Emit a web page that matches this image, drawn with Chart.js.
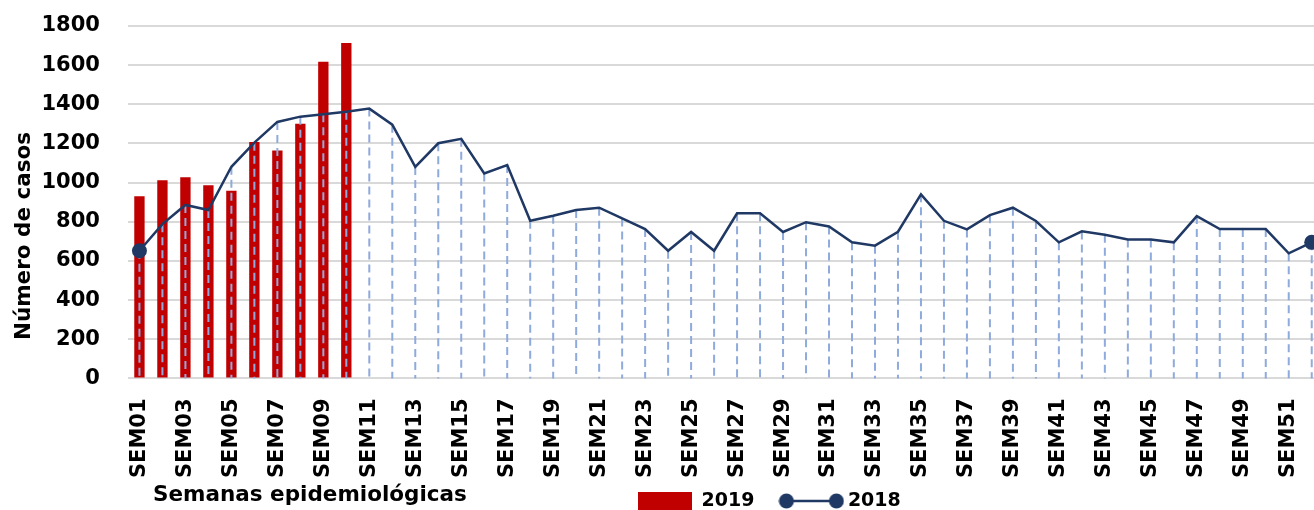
<!DOCTYPE html>
<html lang="es">
<head>
<meta charset="utf-8">
<title>Número de casos por semana epidemiológica</title>
<script src="https://cdn.jsdelivr.net/npm/chart.js@4.4.1/dist/chart.umd.min.js"></script>
<style>
  html, body { margin: 0; padding: 0; background: #ffffff; overflow: hidden; }
  .chart-wrap { width: 1337px; height: 510px; }
</style>
</head>
<body>
<div class="chart-wrap"><canvas id="casos-canvas" width="1337" height="510"></canvas></div>
<script>
// Data

var weeks = [
  "SEM01", "SEM02", "SEM03", "SEM04", "SEM05", "SEM06", "SEM07", "SEM08", "SEM09", "SEM10",
  "SEM11", "SEM12", "SEM13", "SEM14", "SEM15", "SEM16", "SEM17", "SEM18", "SEM19", "SEM20",
  "SEM21", "SEM22", "SEM23", "SEM24", "SEM25", "SEM26", "SEM27", "SEM28", "SEM29", "SEM30",
  "SEM31", "SEM32", "SEM33", "SEM34", "SEM35", "SEM36", "SEM37", "SEM38", "SEM39", "SEM40",
  "SEM41", "SEM42", "SEM43", "SEM44", "SEM45", "SEM46", "SEM47", "SEM48", "SEM49", "SEM50",
  "SEM51", "SEM52"
];

var cases2019 = [930, 1012, 1027, 986, 959, 1207, 1164, 1301, 1617, 1713];

var cases2018 = [
  652, 788, 886, 860, 1081, 1204, 1310, 1337, 1349, 1362,
  1378, 1296, 1080, 1201, 1224, 1047, 1090, 805, 831, 860,
  872, 817, 763, 652, 748, 652, 843, 843, 748, 798,
  776, 695, 678, 749, 940, 805, 761, 834, 872, 804,
  695, 751, 734, 710, 710, 695, 829, 763, 763, 763,
  639, 695
];

var seriesNames = ["2019", "2018"];
var yMin = 0, yMax = 1800, yStep = 200;
var xTitle = "Semanas epidemiológicas";
var yTitle = "Número de casos";

var RED = "#C00000";
var NAVY = "#1F3864";
var DROP = "#8FAADC";
var FONT = "'DejaVu Sans', sans-serif";

// legend icon for the 2018 series: line with a dot at each end
function lineMarkerIcon() {
  var c = document.createElement("canvas");
  c.width = 66;
  c.height = 18;
  var g = c.getContext("2d");
  g.strokeStyle = NAVY;
  g.lineWidth = 2.5;
  g.beginPath();
  g.moveTo(8, 9);
  g.lineTo(58, 9);
  g.stroke();
  g.fillStyle = NAVY;
  [8, 58].forEach(function (x) {
    g.beginPath();
    g.arc(x, 9, 7.5, 0, Math.PI * 2);
    g.fill();
  });
  return c;
}
var icon2018 = lineMarkerIcon();

// dashed drop lines from every 2018 point down to the axis
var dropLines = {
  id: "dropLines",
  beforeDatasetDraw: function (chart, args) {
    if (chart.data.datasets[args.index].type !== "line") return;
    var ctx = chart.ctx;
    var bottom = chart.chartArea.bottom;
    ctx.save();
    ctx.strokeStyle = DROP;
    ctx.lineWidth = 2;
    ctx.setLineDash([8, 5]);
    args.meta.data.forEach(function (pt) {
      ctx.beginPath();
      ctx.moveTo(pt.x, pt.y);
      ctx.lineTo(pt.x, bottom);
      ctx.stroke();
    });
    ctx.restore();
  }
};

// legend goes on the bottom row, right of the x axis title
var legendPlace = {
  id: "legendPlace",
  afterLayout: function (chart) {
    var lg = chart.legend;
    lg.left = 608;
    lg.right = chart.width;
    lg.top = 461.5;
    lg.bottom = chart.height;
    lg.width = lg.right - lg.left;
    lg.height = lg.bottom - lg.top;
  }
};

var axisCaptions = {
  id: "axisCaptions",
  afterDraw: function (chart) {
    var ctx = chart.ctx;
    ctx.save();
    ctx.fillStyle = "#000000";
    ctx.font = "bold 21.5px " + FONT;
    ctx.textBaseline = "middle";
    ctx.textAlign = "left";
    ctx.fillText(xTitle, 153, 495);
    ctx.translate(24, 236);
    ctx.rotate(-Math.PI / 2);
    ctx.textAlign = "center";
    ctx.fillText(yTitle, 0, 0);
    ctx.restore();
  }
};

var lastIdx = cases2018.length - 1;

new Chart(document.getElementById("casos-canvas").getContext("2d"), {
  data: {
    labels: weeks,
    datasets: [
      {
        type: "bar",
        label: seriesNames[0],
        data: cases2019,
        backgroundColor: RED,
        borderWidth: 0,
        barPercentage: 0.45,
        categoryPercentage: 1,
        order: 1
      },
      {
        type: "line",
        label: seriesNames[1],
        data: cases2018,
        borderColor: NAVY,
        backgroundColor: NAVY,
        borderWidth: 2.5,
        tension: 0,
        fill: false,
        pointBackgroundColor: NAVY,
        pointBorderWidth: 0,
        pointRadius: function (ctx) {
          return (ctx.dataIndex === 0 || ctx.dataIndex === lastIdx) ? 7.5 : 0;
        },
        order: 0
      }
    ]
  },
  options: {
    responsive: false,
    animation: false,
    layout: { padding: { top: 26, left: 41.5, right: 0, bottom: 0 } },
    plugins: {
      tooltip: { enabled: false },
      legend: {
        position: "bottom",
        align: "start",
        maxHeight: 32,
        labels: {
          usePointStyle: true,
          pointStyleWidth: 54,
          boxHeight: 18,
          padding: 30,
          color: "#000000",
          font: { family: FONT, size: 19, weight: "bold" },
          sort: function (a, b) { return a.datasetIndex - b.datasetIndex; },
          generateLabels: function (chart) {
            var items = Chart.defaults.plugins.legend.labels.generateLabels(chart);
            items.forEach(function (it) {
              if (it.datasetIndex === 1) {
                it.pointStyle = icon2018;
              } else {
                it.pointStyle = "rect";
                it.lineWidth = 0;
              }
            });
            return items;
          }
        }
      }
    },
    scales: {
      x: {
        offset: true,
        grid: { display: true, drawOnChartArea: false, drawTicks: true, tickLength: 20, tickColor: "rgba(0,0,0,0)" },
        border: { display: false },
        ticks: {
          autoSkip: false,
          minRotation: 90,
          maxRotation: 90,
          padding: 0,
          color: "#000000",
          font: { family: FONT, size: 21, weight: "bold" },
          callback: function (value, index) {
            return index % 2 === 0 ? this.getLabelForValue(value) : "";
          }
        }
      },
      y: {
        min: yMin,
        max: yMax,
        border: { display: false },
        grid: { color: "#D9D9D9", lineWidth: 2, drawTicks: true, tickLength: 28, tickColor: "rgba(0,0,0,0)" },
        ticks: {
          stepSize: yStep,
          padding: 0,
          color: "#000000",
          font: { family: FONT, size: 21, weight: "bold" },
          callback: function (value) { return String(value); }
        }
      }
    }
  },
  plugins: [dropLines, legendPlace, axisCaptions]
});
</script>
</body>
</html>
